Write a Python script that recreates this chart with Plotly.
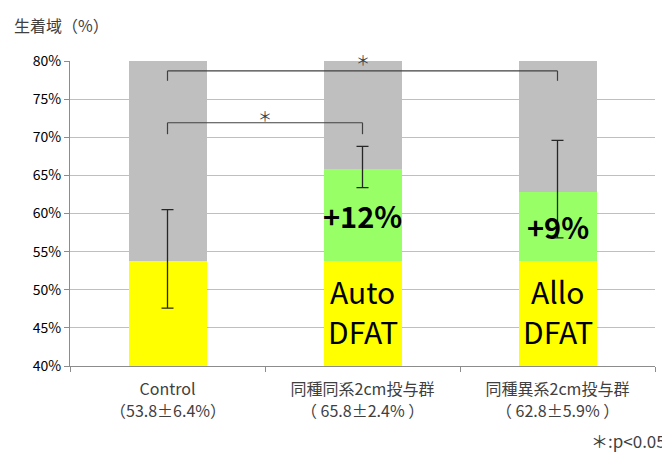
import plotly.graph_objects as go

categories = ["Control", "同種同系2cm投与群", "同種異系2cm投与群"]
category_stats = ["（53.8±6.4%）", "（ 65.8±2.4% ）", "（ 62.8±5.9% ）"]
base_values = [53.8, 53.8, 53.8]
increase_values = [0, 12, 9]
means = [53.8, 65.8, 62.8]
top_values = [80 - m for m in means]
err_plus = [6.7, 3.0, 6.8]
err_minus = [6.2, 2.4, 6.0]
increase_labels = ["", "+12%", "+9%"]
cell_line1 = ["", "Auto", "Allo"]
cell_line2 = ["", "DFAT", "DFAT"]

FONT = "Noto Sans CJK JP"

fig = go.Figure()
fig.add_trace(go.Bar(x=categories, y=base_values, marker=dict(color="#FFFF00", line=dict(width=0)), showlegend=False))
fig.add_trace(go.Bar(x=categories, y=increase_values, marker=dict(color="#99FF66", line=dict(width=0)), showlegend=False))
fig.add_trace(go.Bar(x=categories, y=top_values, marker=dict(color="#BFBFBF", line=dict(width=0)), showlegend=False))
fig.add_trace(go.Scatter(
    x=categories, y=means, mode="markers", marker=dict(size=1, color="rgba(0,0,0,0)"),
    error_y=dict(type="data", symmetric=False, array=err_plus, arrayminus=err_minus,
                 color="#262626", thickness=1.3, width=6),
    showlegend=False, hoverinfo="skip"))

# labels inside bars
for i in (1, 2):
    fig.add_annotation(x=categories[i], y=(base_values[i] + means[i]) / 2,
                       text=f"<b>{increase_labels[i]}</b>", showarrow=False,
                       font=dict(family=FONT, size=29, color="#000000"))
    fig.add_annotation(x=categories[i], y=49.9, text=cell_line1[i], showarrow=False,
                       font=dict(family=FONT, size=30, color="#000000"))
    fig.add_annotation(x=categories[i], y=44.6, text=cell_line2[i], showarrow=False,
                       font=dict(family=FONT, size=30, color="#000000"))

# second line of category labels
for cat, stat in zip(categories, category_stats):
    fig.add_annotation(x=cat, xref="x", yref="paper", y=0, yshift=-44, yanchor="middle",
                       text=stat, showarrow=False, font=dict(family=FONT, size=16, color="#404040"))

# significance brackets
brackets = [(0, 2, 78.7, 77.4), (0, 1, 71.9, 70.4)]
for x0, x1, yh, yl in brackets:
    fig.add_shape(type="line", x0=x0, x1=x0, y0=yl, y1=yh, line=dict(color="#404040", width=1.2))
    fig.add_shape(type="line", x0=x0, x1=x1, y0=yh, y1=yh, line=dict(color="#404040", width=1.2))
    fig.add_shape(type="line", x0=x1, x1=x1, y0=yh, y1=yl, line=dict(color="#404040", width=1.2))
fig.add_annotation(x=1, xref="x", yref="paper", y=1, yshift=2, yanchor="middle", text="＊", showarrow=False,
                   font=dict(family=FONT, size=14, color="#404040"))
fig.add_annotation(x=0.5, y=72.9, text="＊", showarrow=False,
                   font=dict(family=FONT, size=14, color="#404040"))

fig.add_annotation(xref="paper", yref="paper", x=0, xshift=-58, y=1.0, yshift=36, xanchor="left", yanchor="middle",
                   text="生着域（%）", showarrow=False, font=dict(family=FONT, size=16, color="#404040"))
fig.add_annotation(xref="paper", yref="paper", x=1.0, xshift=13, y=0, yshift=-74, xanchor="right", yanchor="middle",
                   text="＊:p<0.05", showarrow=False, font=dict(family=FONT, size=17, color="#404040"))

fig.update_layout(
    width=662, height=444,
    margin=dict(l=62, r=15, t=53, b=86),
    barmode="stack", bargap=0.6,
    plot_bgcolor="white", paper_bgcolor="white",
    font=dict(family=FONT, size=14, color="#404040"),
)
fig.update_yaxes(range=[40, 80], tickvals=[40, 45, 50, 55, 60, 65, 70, 75, 80],
                 ticktext=["40%", "45%", "50%", "55%", "60%", "65%", "70%", "75%", "80%"],
                 showgrid=True, gridcolor="#BFBFBF", gridwidth=1,
                 showline=True, linecolor="#8C8C8C", linewidth=1,
                 ticks="outside", ticklen=5, tickcolor="#8C8C8C",
                 tickfont=dict(family=FONT, size=14, color="#000000"), zeroline=False)
fig.update_xaxes(showline=True, linecolor="#8C8C8C", linewidth=1,
                 ticks="outside", tickson="boundaries", ticklen=5, tickcolor="#8C8C8C",
                 ticklabelstandoff=9,
                 tickfont=dict(family=FONT, size=16, color="#404040"))

fig.write_html("out.html")
